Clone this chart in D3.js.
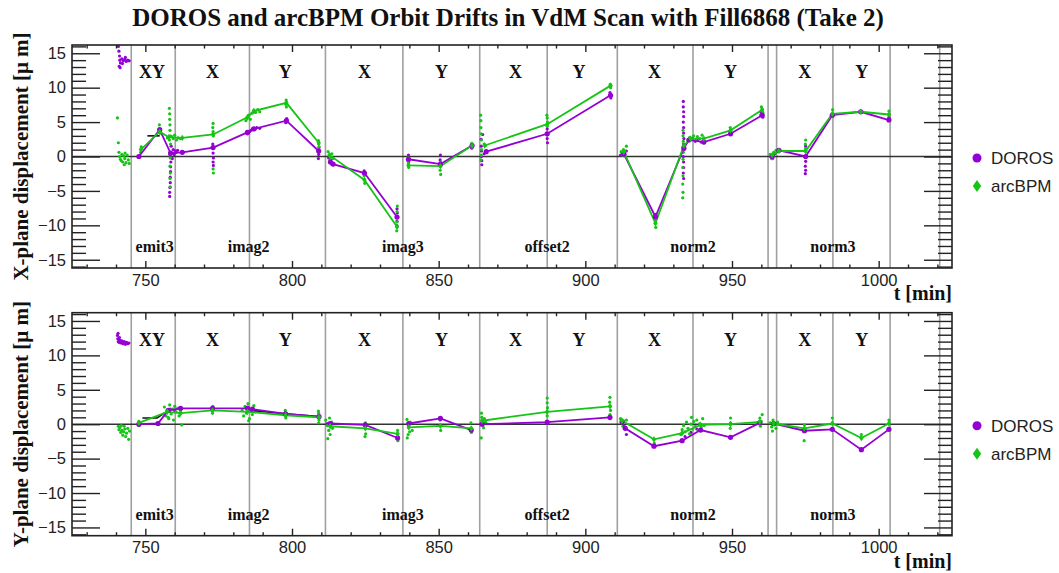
<!DOCTYPE html>
<html>
<head>
<meta charset="utf-8">
<script src="https://cdn.jsdelivr.net/npm/d3@7"></script>
<style>
  body { margin: 0; background: #fff; }
  svg { display: block; }
  .tick text { font-family: "Liberation Sans", Arial, sans-serif; font-size: 16.5px; fill: #222; }
  .serif { font-family: "Liberation Serif", "Times New Roman", serif; font-weight: bold; fill: #111; }
</style>
</head>
<body>
<svg id="chart" width="1059" height="573"></svg>
<script>
// ── Data ─────────────────────────────────────────────────────
const scanLines = [745.2, 760.2, 785.5, 811.4, 837.8, 864.0, 887.0, 910.9, 936.7, 962.3, 965.2, 984.4, 1003.9, 1020.8];
const planeLabelT = [752.3, 772.9, 797.7, 824.7, 851.0, 876.2, 897.8, 923.6, 949.5, 974.8, 994.2];
const planeLabelText = ['XY', 'X', 'Y', 'X', 'Y', 'X', 'Y', 'X', 'Y', 'X', 'Y'];
const scanNameT = [753.2, 785.2, 837.8, 887.0, 936.7, 984.4];
const scanNameText = ['emit3', 'imag2', 'imag3', 'offset2', 'norm2', 'norm3'];
const yMajor = [-15, -10, -5, 0, 5, 10, 15];

// X plane, mean per scan step, split by scan
const xDorosNodes = [
  [[747.8, 0], [754.9, 3.9], [758.6, 0.5], [762.6, 0.6], [773.1, 1.3], [784.8, 3.5], [787.0, 4.0], [798.1, 5.2], [809.1, 0.8]],
  [[813.1, -0.8], [814.0, -1.1], [824.7, -2.4], [835.8, -8.8]],
  [[839.7, -0.4], [850.6, -1.1], [861.4, 1.6]],
  [[866.2, 0.7], [887.0, 3.3], [908.6, 8.9]],
  [[913.1, 0.4], [923.9, -8.75], [933.6, 1.2], [935.3, 2.4], [940.4, 2.1], [949.5, 3.3], [960.3, 6.0]],
  [[963.7, 0], [966.0, 0.9], [975.1, 0], [984.2, 6.0], [993.9, 6.5], [1003.5, 5.3]]
];
const xArcNodes = [
  [[748.5, 1.0], [754.9, 3.6], [758.0, 2.8], [762.6, 2.7], [773.1, 3.2], [784.8, 5.7], [787.0, 6.6], [798.1, 7.8], [809.1, 2.0]],
  [[812.8, 0.2], [824.7, -3.4], [835.8, -10.2]],
  [[839.7, -1.3], [850.6, -1.4], [861.4, 1.6]],
  [[865.7, 1.6], [887.0, 4.7], [908.6, 10.3]],
  [[913.1, 0.7], [923.9, -9.7], [933.6, 1.6], [935.9, 2.6], [940.4, 2.6], [949.5, 3.8], [960.3, 6.8]],
  [[963.7, 0.2], [966.0, 0.8], [975.1, 0.8], [984.2, 6.2], [993.9, 6.5], [1003.5, 6.1]]
];
const xRefNodes = [[[750.7, 3.0], [754.9, 3.0]]];

// Y plane
const yDorosNodes = [
  [[747.8, 0], [754.3, 0.1], [757.8, 2.0], [762.0, 2.3], [772.9, 2.3], [784.8, 2.3], [786.5, 2.2], [797.8, 1.5], [809.2, 1.1]],
  [[813.0, 0.1], [825.0, -0.1], [836.0, -2.0]],
  [[839.8, 0.1], [850.6, 0.85], [861.1, -0.85]],
  [[864.8, 0], [887.0, 0.3], [908.4, 1.0]],
  [[912.5, 0.35], [913.6, -0.6], [923.4, -3.2], [933.0, -2.4], [939.3, -0.85], [949.5, -1.9], [959.5, 0.2]],
  [[964.2, 0.1], [974.7, -0.95], [984.2, -0.75], [994.1, -3.7], [1003.5, -0.75]]
];
const yArcNodes = [
  [[747.8, 0.2], [757.5, 1.8], [762.0, 1.6], [772.9, 2.0], [784.8, 1.8], [797.8, 1.3], [809.2, 1.0]],
  [[813.0, -0.3], [825.0, -0.6], [836.0, -1.4]],
  [[839.8, -0.45], [850.6, -0.25], [861.1, -0.6]],
  [[864.8, 0.5], [887.0, 1.8], [908.4, 2.6]],
  [[912.5, 0.5], [923.4, -2.2], [933.0, -1.3], [939.3, -0.1], [949.5, 0], [959.5, 0.35]],
  [[964.2, 0.1], [974.7, -0.6], [984.2, 0.1], [994.1, -2.0], [1003.5, 0.1]]
];
const yRefNodes = [[[749.0, 0.9], [754.0, 0.9], [757.5, 1.9]], [[786.5, 2.0], [797.8, 1.5], [809.2, 1.1]]];

// raw readings [t, value]
const xDorosRaw = [
  [740.8, 16], [741, 15.3], [741.2, 14.6], [741.3, 14.0], [741.5, 13.6], [741.4, 12.9], [742, 14.2], [742.5, 13.9], [743, 14.1],
  [743.5, 13.8], [744, 14.0], [744.5, 13.9], [742.2, 13.5], [743.2, 14.4], [741.1, 13.1],
  [758.3, -5.8], [758.3, -5.2], [758.4, -4.5], [758.5, -3.8], [758.5, -3], [758.6, -2.2], [758.6, -1.5], [758.7, -0.8], [758.4, 0.2],
  [759, 0.5], [759.5, 1.0], [759.8, 0.3], [760.2, 0.8], [760.5, 0.6], [761, 0.9], [758.8, 1.5], [759.2, -0.3],
  [773.1, 1.3], [773.1, 0.5], [773.2, -0.2], [773.1, -0.8], [773.2, -1.3], [773, 1.8],
  [784.8, 3.3], [785.5, 3.6], [786, 3.8], [786.5, 4.0], [787, 4.1], [787.5, 4.0], [788, 4.2], [789, 4.1],
  [798.1, 5.2], [798.2, 5.5], [797.9, 4.9],
  [809, 0.9], [809.1, 0.3], [809, -0.3], [809.2, 1.3],
  [812.5, -0.2], [813, -0.8], [813.5, -1.1], [813.2, -0.5], [814, -1.2],
  [824.7, -2.4], [824.6, -2.1],
  [835.8, -8.8], [835.8, -7.6], [835.9, -8.2], [835.8, -9.4], [835.7, -10],
  [839.5, -0.3], [839.8, -0.8], [839.7, 0.2], [850.6, 0.2], [850.6, -1.1], [850.5, -0.5], [861.4, 1.6], [861.3, 1.2],
  [864.5, 2.5], [864.5, 1.5], [864.6, 0.8], [864.6, 0], [864.7, -0.6], [864.7, -1.2], [865.5, 0.4], [866, 0.7], [865, 3.2],
  [887, 3.3], [887, 2.6], [887.1, 2.0], [887, 4], [908.6, 8.9], [908.4, 9.3], [908.7, 8.5], [908.5, 9.0],
  [912, 0.2], [913, 0.4], [914, 0.8], [913.5, 0.3], [923.9, -8.75], [924, -8.4],
  [933.4, 8.0], [933.4, 7.2], [933.5, 6.5], [933.5, 5.8], [933.4, 5], [933.5, 4.2], [933.5, 3.4], [933.6, 2.6], [933.5, 1.8],
  [933.6, 1], [933.4, 0], [933.5, -0.8], [933.5, -1.6], [933.4, -2.4], [933.5, -3.2],
  [935.5, 2.4], [936.5, 2.6], [937.5, 2.2], [938.5, 2.5], [939.5, 2.1], [940.5, 2.0], [949.5, 3.3],
  [960, 6.0], [960.3, 6.3], [960.5, 5.7], [959.8, 6.5],
  [963.2, 0], [963.8, -0.3], [964.5, 0.4], [965.5, 0.8], [966, 0.9],
  [975.1, 1.5], [975.1, 0.8], [975, 0], [975.1, -0.7], [975, -1.4], [975.1, -2.0], [975, -2.5],
  [984.2, 6], [993.9, 6.5], [1003.5, 5.3], [1003.5, 5.7]
];
const xArcRaw = [
  [740.5, 5.6], [740.8, 2], [741, 0.6], [741.2, 0], [741.5, -0.4], [742, 0.3], [742.3, -0.8], [742.6, 0.1], [743, -0.3], [743.4, -0.9],
  [743.8, 0.2], [744.2, -0.5], [744.5, -1.0], [741.8, -0.6], [743.1, 0.5], [742.8, -1.2],
  [748.4, 0.6], [748.6, 1.4], [754.8, 4.6], [755, 3.4],
  [758.2, 7.0], [758.3, 6.2], [758.3, 5.4], [758.4, 4.6], [758.4, 3.8], [758.5, 3.0], [758.2, 2.4], [758.6, 1.8], [758.5, -0.2],
  [758.4, -1.4], [758.5, -2.4], [758.4, -3.2], [758.5, -4.4], [759, 2.9], [759.5, 2.6], [760, 3.1], [760.6, 2.4], [761.2, 2.7],
  [762, 2.6], [757.5, 2.7],
  [773.1, 4.8], [773, 4.2], [773.1, 3.6], [773.2, 3.0], [773.1, -1.8], [773.2, -2.4],
  [784.3, 5.2], [784.8, 5.7], [785.3, 6.0], [785.8, 5.4], [786.4, 6.3], [787, 6.7], [787.6, 6.4], [788.3, 6.8], [789, 6.5],
  [798, 8.2], [798.1, 7.2], [797.9, 7.6], [809, 2.3], [809.1, 1.8], [809.2, 1.4],
  [812.3, 0.7], [812.7, 0.2], [813.2, -0.1], [813.6, 0.4], [812.9, -0.5], [814, -0.3],
  [824.7, -3.4], [824.6, -2.8], [824.8, -3.9],
  [835.8, -10.2], [835.9, -7.2], [835.8, -8.0], [835.7, -10.8], [835.8, -9.5],
  [839.6, -0.2], [839.7, -1.0], [839.8, -1.6], [839.5, -0.6], [850.6, -1.4], [850.5, -2.0], [850.7, -2.6], [850.6, -0.8],
  [861.3, 1.9], [861.4, 1.4],
  [864.3, 6.0], [864.4, 5.2], [864.4, 4.2], [864.5, 3.3], [864.6, 2.4], [864.6, 1.0], [864.5, 0.2], [864.4, -0.5], [865.5, 1.8], [866, 1.6],
  [887, 5.6], [887.1, 5.0], [887, 4.4], [886.9, 6.0], [908.5, 10.5], [908.6, 10.0], [908.7, 10.3],
  [912.2, 0.7], [912.6, 0.4], [913, 1.0], [913.5, 0.8], [914, 1.5], [912.8, 0.2],
  [923.9, -9.7], [924, -10.3], [923.8, -9.2],
  [933.3, 3.8], [933.3, 3.0], [933.4, 2.2], [933.3, 1.4], [933.4, 0.6], [933.3, -0.4], [933.2, -1.6], [933.3, -2.8], [933.2, -4.0],
  [933.3, -5.2], [933.2, -6.0],
  [935, 2.4], [935.6, 2.8], [936.2, 2.5], [936.9, 3.0], [937.6, 2.4], [938.2, 2.9], [939, 2.6], [939.8, 3.1], [940.4, 2.6],
  [949.5, 3.8], [949.4, 4.2], [960, 7.2], [960.3, 6.8], [960.5, 6.4], [959.8, 6.0],
  [963, 0.3], [963.5, -0.3], [964.2, 0.6], [965, 0.9], [965.8, 0.8],
  [975.1, 2.4], [975, 1.8], [975.1, 1.2], [975, 0.8],
  [984.2, 6.2], [984.3, 6.8], [993.9, 6.5], [1003.5, 6.1], [1003.5, 6.6]
];
const yDorosRaw = [
  [740.5, 12.9], [740.6, 12.4], [740.8, 12], [741, 11.9], [741.3, 12.2], [741.6, 11.8], [742, 12.1], [742.4, 11.7], [742.8, 12.0],
  [743.2, 11.6], [743.6, 11.9], [744, 11.7], [744.4, 11.8], [741.2, 12.6], [740.7, 13.2],
  [757.5, 1.9], [758.5, 2.2], [760, 2.0], [773, 2.5], [785, 2.5], [786, 2.0], [809, 1.1], [812, 0.1], [836, -2.0],
  [850.6, 0.85], [864.8, 0], [887, 0.3], [908.4, 1.0], [908.4, 0.8], [912.5, 0.35], [913.6, -0.6], [914, -1.5],
  [923.4, -3.2], [933, -2.4], [934, -1.8], [936, -1.2], [938, -0.7], [939.3, -0.85], [949.5, -1.9], [959.5, 0.2],
  [974.7, -0.95], [984.2, -0.75], [994.1, -3.7], [1003.5, -0.75]
];
const yArcRaw = [
  [740.8, -0.3], [741, -0.8], [741.3, -0.5], [741.6, -1.2], [742, -0.9], [742.3, -1.6], [742.6, -1.1], [743, -0.7], [743.3, -1.8],
  [743.6, -1.3], [744, -0.6], [744.3, -2.2], [742.8, -0.3], [741.8, -0.2], [744.6, -1.0],
  [747.8, 0.4], [747.8, -0.2],
  [756.5, 2.5], [757, 1.2], [757.5, 2.0], [758, 0.8], [758.3, 2.8], [758.8, 1.5], [759.2, 2.2], [759.6, 0.6], [760, 2.6],
  [760.5, 1.8], [761, 2.3], [761.5, 1.2], [762, 2.0], [762.4, -0.1], [757.8, 1.0],
  [772.9, 2.3], [772.9, 1.6], [773, 2.6],
  [783, 2.0], [783.5, 1.2], [784, 2.6], [784.5, 1.6], [785, 3.0], [785.5, 0.8], [786, 2.2], [786.5, 1.4], [787, 2.7], [787.5, 1.8], [785.2, 0.5],
  [797.8, 1.3], [797.7, 2.0], [797.9, 0.9], [809.1, 1.6], [809.2, 0.6], [809, 1.9], [809.1, 0.2],
  [811.5, 0.6], [812, -0.2], [812.5, -0.9], [813, -1.5], [812.2, -2.1], [813.5, 0.3], [812.8, 0.9], [813.8, -0.6],
  [825, 0.2], [825, -0.6], [825.1, -1.4], [824.9, -1.8], [836, -0.9], [835.9, -1.4], [836.1, -2.4],
  [839.2, 0.7], [839.5, 0.1], [839.8, -0.5], [840.1, -1.1], [839.6, -1.5], [840.3, 0.3], [841, -0.9], [839.3, -2.0],
  [850.6, -0.25], [850.5, 0.6], [850.7, -0.9], [861.1, -0.6], [861, 0.2], [861.2, -1.2],
  [864.6, 1.6], [864.7, 1.0], [864.8, 0.5], [865, 0.1], [865.3, -0.5], [865.6, 0.8], [866, 0.3], [864.5, -2.0],
  [887, 3.8], [887, 3.1], [887.1, 2.4], [887, 1.8], [887, 1.2], [908.4, 3.9], [908.3, 3.2], [908.5, 2.6], [908.6, 2.0], [908.4, 1.4],
  [912, 0.8], [912.5, 0.2], [913, 0.5], [913.5, -0.4], [914, 0.6], [912.8, -0.3], [923.4, -2.2], [923.5, -2.8],
  [932.5, -1.5], [933, -0.8], [933.5, -0.2], [934, -1.1], [934.5, 0.3], [935, -0.6], [935.5, -1.4], [936, 0], [936.5, -0.7],
  [937, 0.4], [937.5, -0.3], [938, 0.6], [938.5, -0.9], [939, 0.1], [939.5, -0.4], [940, 0.8], [940.5, -0.2], [936.2, 1.0],
  [949.5, 0.2], [949.4, -0.6], [949.5, 0.9], [959, 0.3], [959.5, 0.9], [960, 0.4], [960.3, 1.4], [959.7, -0.3],
  [963, 0.2], [963.5, -0.4], [964, 0.6], [964.5, -0.1], [965, -0.6], [965.5, 0.3], [963.8, -1.0],
  [974.7, -0.1], [974.7, -0.6], [974.6, -2.4], [984.2, 0.1], [984.2, 0.9], [984.1, -0.7],
  [994.1, -2.0], [994.1, -1.5], [1003.5, 0.1], [1003.5, 0.6], [1003.4, -0.6]
];

// ── Layout ───────────────────────────────────────────────────
const DOROS_C = '#9400d3';
const ARC_C = '#16c416';
const left = 72, right = 952, frameH = 223;
const panels = [
  { top: 45, label: 'X-plane displacement [\u03bc m]', dor: xDorosNodes, arc: xArcNodes, ref: xRefNodes, dorRaw: xDorosRaw, arcRaw: xArcRaw },
  { top: 312.7, label: 'Y-plane displacement [\u03bc m]', dor: yDorosNodes, arc: yArcNodes, ref: yRefNodes, dorRaw: yDorosRaw, arcRaw: yArcRaw }
];

const svg = d3.select('#chart');
svg.append('rect').attr('width', 1059).attr('height', 573).attr('fill', '#fff');

svg.append('text').attr('class', 'serif')
  .attr('x', 508).attr('y', 26).attr('text-anchor', 'middle')
  .attr('font-size', 25)
  .text('DOROS and arcBPM Orbit Drifts in VdM Scan with Fill6868 (Take 2)');

const x = d3.scaleLinear().domain([725, 1025]).range([left, right]);
const xMajor = d3.range(750, 1001, 50);
const xMinor = d3.range(730, 1021, 10).filter(d => d % 50 !== 0);
const yMinorAll = d3.range(-16, 17, 1).filter(d => d % 5 !== 0);

panels.forEach(p => {
  const bottom = p.top + frameH;
  const y = d3.scaleLinear().domain([-16.2, 16.2]).range([bottom, p.top]);
  const g = svg.append('g');

  // scan boundaries
  g.selectAll('.scan').data(scanLines).join('line')
    .attr('x1', d => x(d)).attr('x2', d => x(d))
    .attr('y1', p.top).attr('y2', bottom)
    .attr('stroke', '#a0a0a0').attr('stroke-width', 1.6);

  // zero line
  g.append('line')
    .attr('x1', left).attr('x2', right).attr('y1', y(0)).attr('y2', y(0))
    .attr('stroke', '#333').attr('stroke-width', 1.5);

  // plane / scan labels
  g.selectAll('.plane').data(planeLabelT).join('text').attr('class', 'serif')
    .attr('x', d => x(d)).attr('y', p.top + 33).attr('text-anchor', 'middle')
    .attr('font-size', 18).text((d, i) => planeLabelText[i]);
  g.selectAll('.scanName').data(scanNameT).join('text').attr('class', 'serif')
    .attr('x', d => x(d)).attr('y', p.top + 207).attr('text-anchor', 'middle')
    .attr('font-size', 16).text((d, i) => scanNameText[i]);

  // raw readings
  g.selectAll('.dr').data(p.dorRaw).join('circle')
    .attr('cx', d => x(d[0])).attr('cy', d => y(d[1])).attr('r', 1.6).attr('fill', DOROS_C);
  g.selectAll('.ar').data(p.arcRaw).join('circle')
    .attr('cx', d => x(d[0])).attr('cy', d => y(d[1])).attr('r', 1.6).attr('fill', ARC_C);

  const line = d3.line().x(d => x(d[0])).y(d => y(d[1]));
  const drawSeries = (segs, color, w) => {
    g.selectAll(null).data(segs).join('path')
      .attr('d', line).attr('fill', 'none').attr('stroke', color).attr('stroke-width', w);
  };
  drawSeries(p.ref, '#111', 1.6);
  drawSeries(p.dor, DOROS_C, 1.8);
  drawSeries(p.arc, ARC_C, 1.8);

  g.selectAll(null).data(p.dor.flat()).join('circle')
    .attr('cx', d => x(d[0])).attr('cy', d => y(d[1])).attr('r', 2.6).attr('fill', DOROS_C);
  g.selectAll(null).data(p.arc.flat()).join('path')
    .attr('transform', d => `translate(${x(d[0])},${y(d[1])})`)
    .attr('d', 'M0,-3.2L2.2,0L0,3.2L-2.2,0Z').attr('fill', ARC_C);

  // frame
  g.append('rect').attr('x', left).attr('y', p.top).attr('width', right - left).attr('height', frameH)
    .attr('fill', 'none').attr('stroke', '#222').attr('stroke-width', 1.6);

  // y ticks (both sides, inward)
  const tickStyle = sel => { sel.select('.domain').remove(); sel.selectAll('line').attr('stroke', '#222').attr('stroke-width', 1.4); };
  g.append('g').attr('transform', `translate(${left},0)`)
    .call(d3.axisRight(y).tickValues(yMajor).tickSize(28).tickFormat('')).call(tickStyle);
  g.append('g').attr('transform', `translate(${left},0)`)
    .call(d3.axisRight(y).tickValues(yMinorAll).tickSize(14).tickFormat('')).call(tickStyle);
  g.append('g').attr('transform', `translate(${right},0)`)
    .call(d3.axisLeft(y).tickValues(yMajor).tickSize(28).tickFormat('')).call(tickStyle);
  g.append('g').attr('transform', `translate(${right},0)`)
    .call(d3.axisLeft(y).tickValues(yMinorAll).tickSize(14).tickFormat('')).call(tickStyle);
  g.append('g').attr('transform', `translate(${left - 4},0)`)
    .call(d3.axisLeft(y).tickValues(yMajor).tickSize(0).tickPadding(2)).call(tickStyle);

  // x ticks (top and bottom, inward)
  g.append('g').attr('transform', `translate(0,${bottom})`)
    .call(d3.axisTop(x).tickValues(xMajor).tickSize(7).tickFormat('')).call(tickStyle);
  g.append('g').attr('transform', `translate(0,${bottom})`)
    .call(d3.axisTop(x).tickValues(xMinor).tickSize(3.5).tickFormat('')).call(tickStyle);
  g.append('g').attr('transform', `translate(0,${p.top})`)
    .call(d3.axisBottom(x).tickValues(xMajor).tickSize(7).tickFormat('')).call(tickStyle);
  g.append('g').attr('transform', `translate(0,${p.top})`)
    .call(d3.axisBottom(x).tickValues(xMinor).tickSize(3.5).tickFormat('')).call(tickStyle);
  g.append('g').attr('transform', `translate(0,${bottom})`)
    .call(d3.axisBottom(x).tickValues(xMajor).tickSize(0).tickPadding(6).tickFormat(d3.format('d'))).call(tickStyle);

  // axis titles
  g.append('text').attr('class', 'serif').attr('font-size', 21)
    .attr('transform', `translate(28,${p.top + frameH / 2}) rotate(-90)`)
    .attr('text-anchor', 'middle').text(p.label);
  g.append('text').attr('class', 'serif').attr('font-size', 20)
    .attr('x', right).attr('y', bottom + 32).attr('text-anchor', 'end').text('t [min]');

  // legend
  const lg = g.append('g').attr('font-family', '"Liberation Sans", Arial, sans-serif').attr('font-size', 17);
  lg.append('circle').attr('cx', 977).attr('cy', p.top + 113).attr('r', 4.5).attr('fill', DOROS_C);
  lg.append('text').attr('x', 991).attr('y', p.top + 113).attr('dy', '0.35em').attr('fill', '#222').text('DOROS');
  lg.append('path').attr('transform', `translate(977,${p.top + 141})`)
    .attr('d', 'M0,-6L4.2,0L0,6L-4.2,0Z').attr('fill', ARC_C);
  lg.append('text').attr('x', 991).attr('y', p.top + 141).attr('dy', '0.35em').attr('fill', '#222').text('arcBPM');
});
</script>
</body>
</html>
